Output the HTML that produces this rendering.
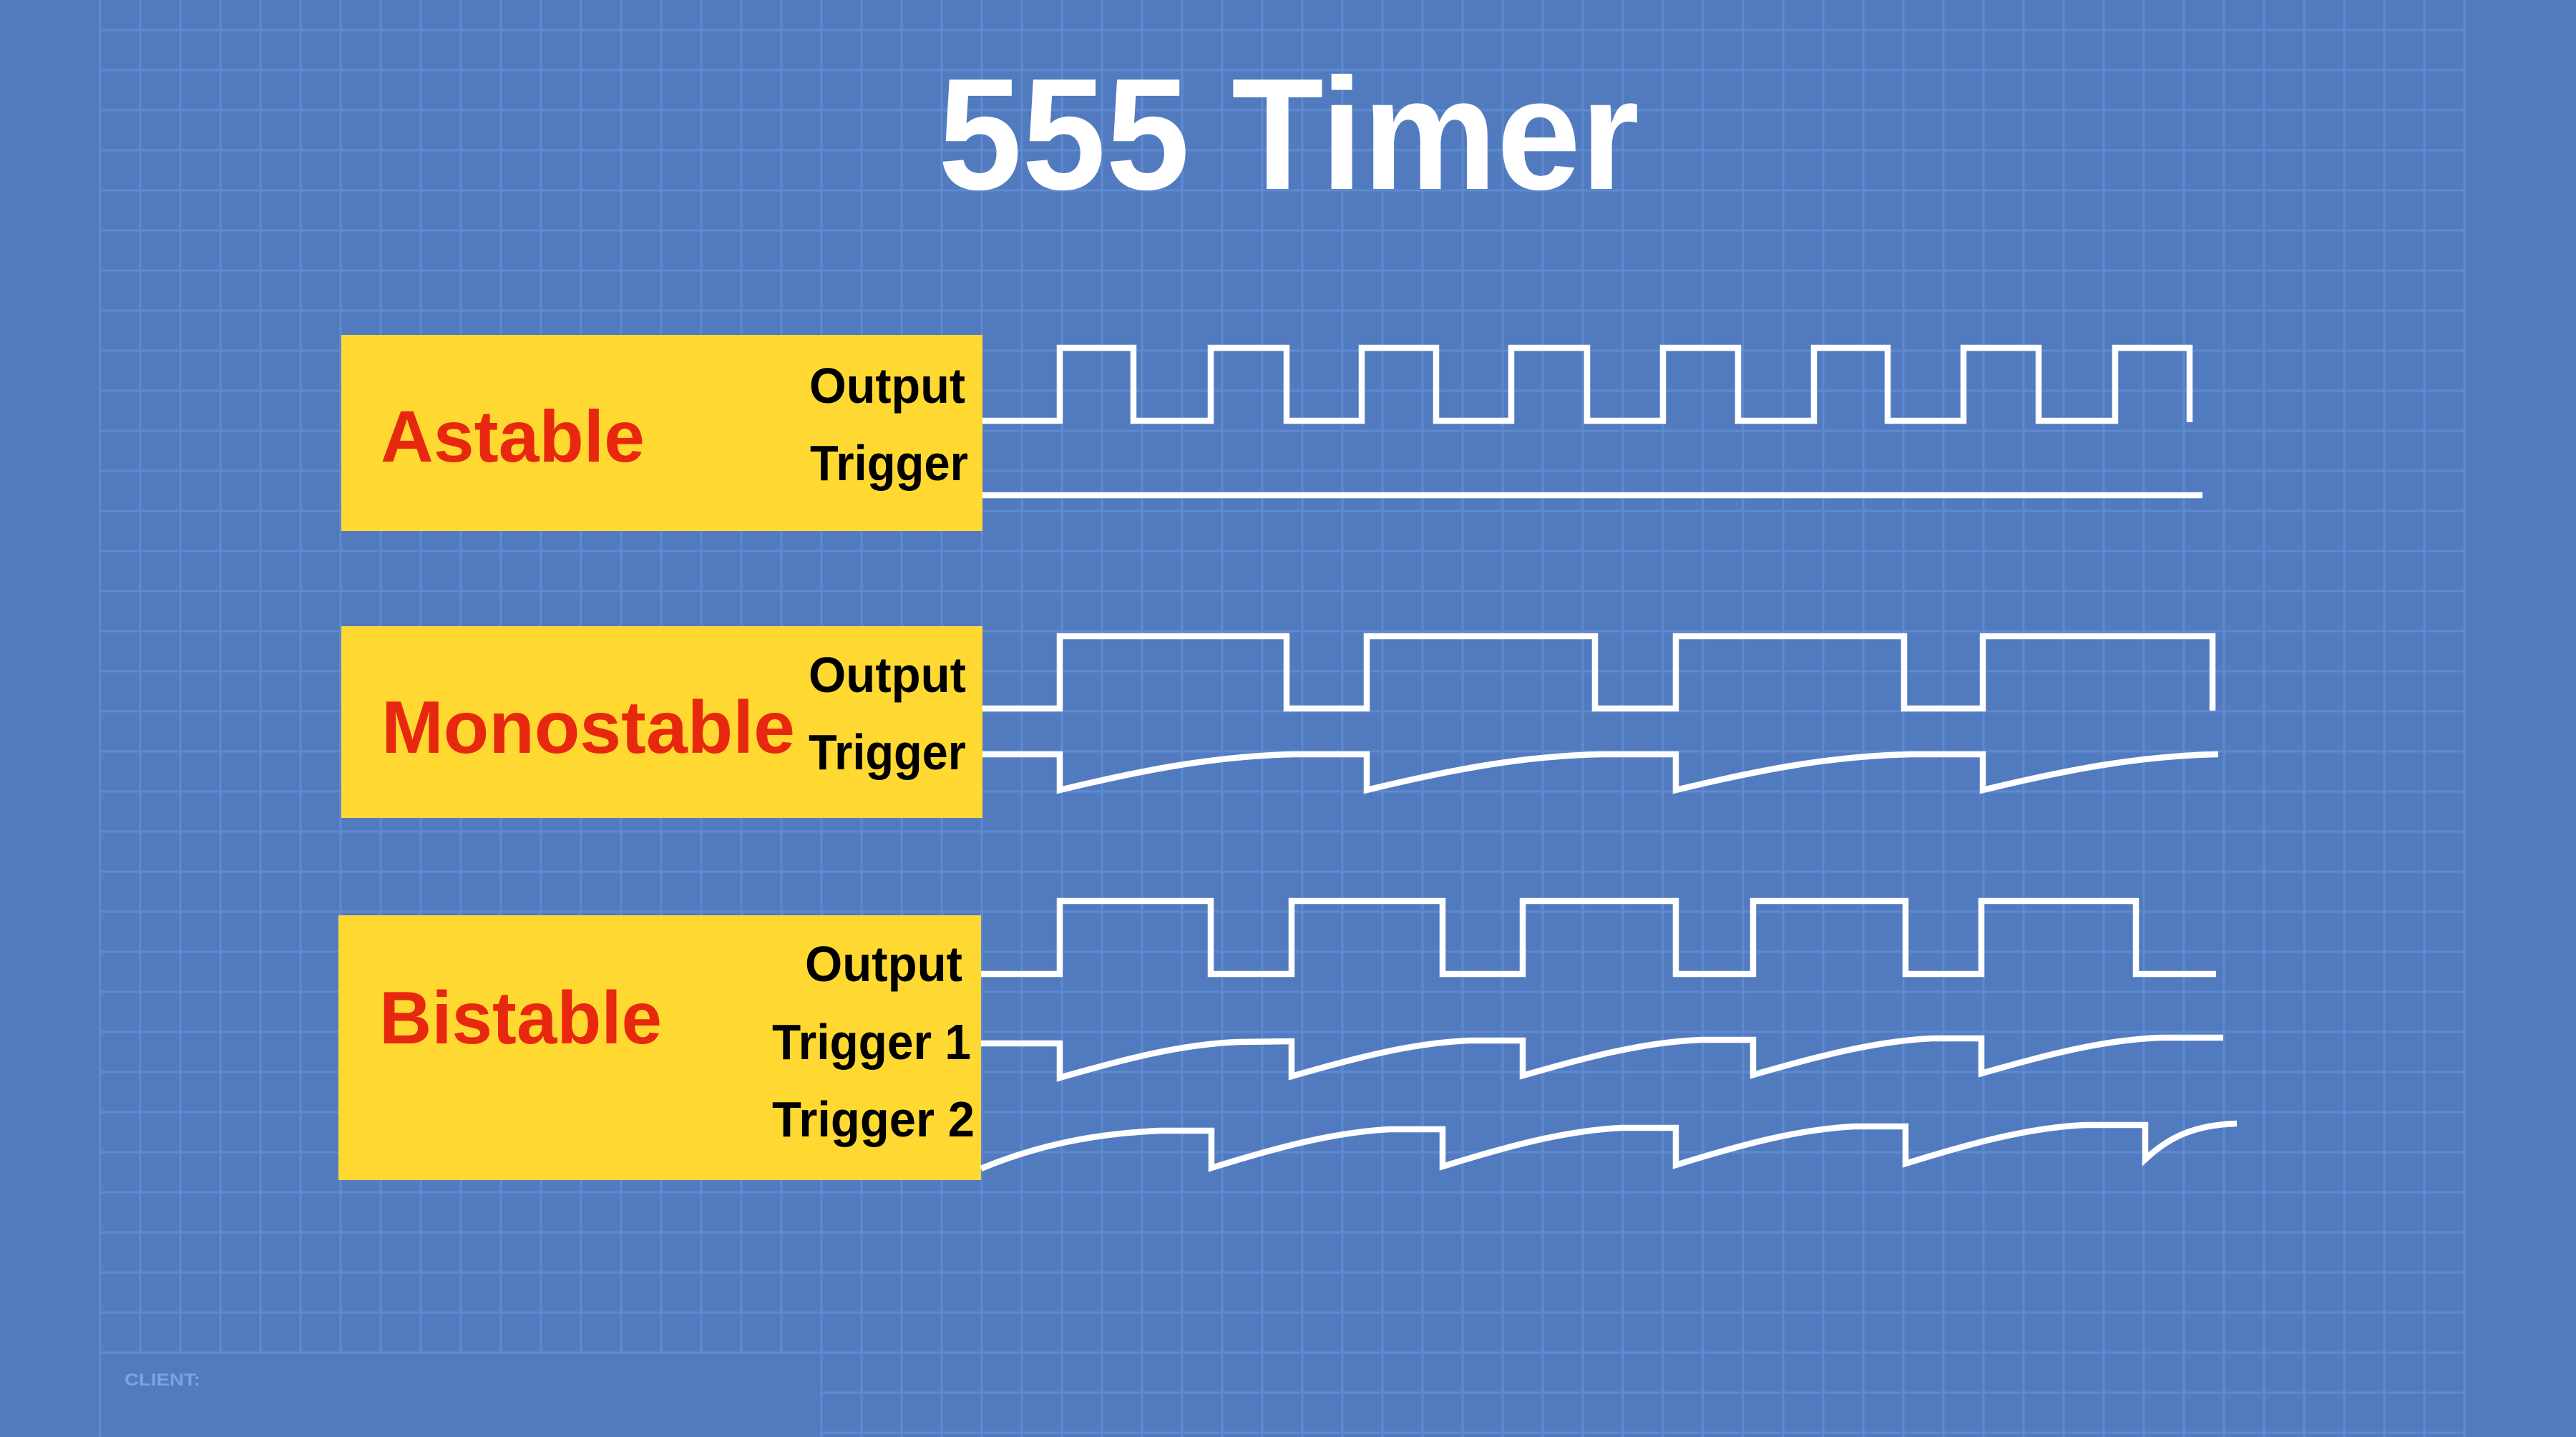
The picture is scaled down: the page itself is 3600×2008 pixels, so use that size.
<!DOCTYPE html>
<html><head><meta charset="utf-8"><style>
html,body{margin:0;padding:0;background:#527bbf;}
svg{display:block;}
</style></head><body>
<svg width="3600" height="2008" viewBox="0 0 3600 2008" xmlns="http://www.w3.org/2000/svg">
<defs>
<pattern id="g" x="138.5" y="40.5" width="56" height="56" patternUnits="userSpaceOnUse">
<rect x="0" y="0" width="3" height="56" fill="#5d8ad1"/>
<rect x="0" y="0" width="56" height="3" fill="#5d8ad1"/>
</pattern>
</defs>
<rect width="3600" height="2008" fill="#527bbf"/>
<rect x="138" y="0" width="3308" height="2008" fill="url(#g)"/>
<rect x="3442.5" y="0" width="3" height="2008" fill="#5d8ad1"/>
<rect x="142" y="1893" width="1004" height="115" fill="#527bbf"/>
<text x="174" y="1936" font-family="Liberation Sans, sans-serif" font-weight="bold" font-size="24" fill="#7ea3de" textLength="106" lengthAdjust="spacingAndGlyphs">CLIENT:</text>

<text x="1311" y="264" font-family="Liberation Sans, sans-serif" font-weight="bold" font-size="222" fill="#fff" textLength="980" lengthAdjust="spacingAndGlyphs">555 Timer</text>

<g font-family="Liberation Sans, sans-serif" font-weight="bold">
<rect x="477" y="468" width="896" height="274" fill="#ffd932"/>
<text x="532" y="645" font-size="102" fill="#e8270f" textLength="369" lengthAdjust="spacingAndGlyphs">Astable</text>
<text x="1131" y="563" font-size="70" fill="#000" textLength="218" lengthAdjust="spacingAndGlyphs">Output</text>
<text x="1132" y="671" font-size="70" fill="#000" textLength="221" lengthAdjust="spacingAndGlyphs">Trigger</text>

<rect x="477" y="875" width="896" height="268" fill="#ffd932"/>
<text x="533" y="1052" font-size="104" fill="#e8270f" textLength="578" lengthAdjust="spacingAndGlyphs">Monostable</text>
<text x="1130" y="967" font-size="70" fill="#000" textLength="220" lengthAdjust="spacingAndGlyphs">Output</text>
<text x="1130" y="1075" font-size="70" fill="#000" textLength="220" lengthAdjust="spacingAndGlyphs">Trigger</text>

<rect x="473" y="1279" width="898" height="370" fill="#ffd932"/>
<text x="530" y="1458" font-size="104" fill="#e8270f" textLength="395" lengthAdjust="spacingAndGlyphs">Bistable</text>
<text x="1125" y="1371" font-size="70" fill="#000" textLength="220" lengthAdjust="spacingAndGlyphs">Output</text>
<text x="1079" y="1480" font-size="70" fill="#000" textLength="278" lengthAdjust="spacingAndGlyphs">Trigger 1</text>
<text x="1079" y="1588" font-size="70" fill="#000" textLength="283" lengthAdjust="spacingAndGlyphs">Trigger 2</text>
</g>

<g fill="none" stroke="#fff" stroke-width="8.5" stroke-linejoin="miter" stroke-linecap="butt">
<path d="M1373 588 L1481 588 L1481 486 L1584 486 L1584 588 L1692 588 L1692 486 L1798 486 L1798 588 L1903 588 L1903 486 L2007 486 L2007 588 L2112 588 L2112 486 L2218 486 L2218 588 L2324 588 L2324 486 L2429 486 L2429 588 L2535 588 L2535 486 L2638 486 L2638 588 L2744 588 L2744 486 L2849 486 L2849 588 L2956 588 L2956 486 L3060 486 L3060 590"/>
<path d="M1373 692 L3078 692"/>

<path d="M1373 990 L1481 990 L1481 889 L1798 889 L1798 990 L1910 990 L1910 889 L2229 889 L2229 990 L2342 990 L2342 889 L2661 889 L2661 990 L2771 990 L2771 889 L3092 889 L3092 993"/>
<path d="M1373 1054 L1481 1054 L1481 1104 C1601 1075 1701 1056 1811 1054 L1910 1054 L1910 1104 C2030 1075 2130 1056 2240 1054 L2342 1054 L2342 1104 C2462 1075 2562 1056 2672 1054 L2771 1054 L2771 1104 C2891 1075 2991 1056 3100 1054"/>

<path d="M1371 1361 L1481 1361 L1481 1259 L1692 1259 L1692 1361 L1805 1361 L1805 1259 L2016 1259 L2016 1361 L2128 1361 L2128 1259 L2342 1259 L2342 1361 L2450 1361 L2450 1259 L2663 1259 L2663 1361 L2769 1361 L2769 1259 L2985 1259 L2985 1361 L3097 1361"/>
<path d="M1371 1458 L1481 1458 L1481 1506 C1571 1480 1651 1459 1731 1456 L1805 1455 L1805 1504 C1895 1478 1975 1457 2055 1454 L2128 1454 L2128 1503 C2218 1477 2298 1456 2378 1453 L2450 1453 L2450 1502 C2540 1476 2620 1455 2700 1451 L2769 1451 L2769 1500 C2859 1474 2939 1453 3020 1450 L3107 1450"/>
<path d="M1371 1633 C1450 1600 1530 1584 1620 1580 L1693 1580 L1693 1632 C1783 1604 1863 1582 1943 1578 L2016 1578 L2016 1630 C2106 1602 2186 1580 2266 1576 L2342 1576 L2342 1628 C2432 1600 2512 1578 2592 1574 L2663 1574 L2663 1626 C2753 1598 2833 1576 2913 1572 L2998 1572 L2998 1620 C3030 1590 3065 1572 3126 1570"/>
</g>
</svg>
</body></html>
